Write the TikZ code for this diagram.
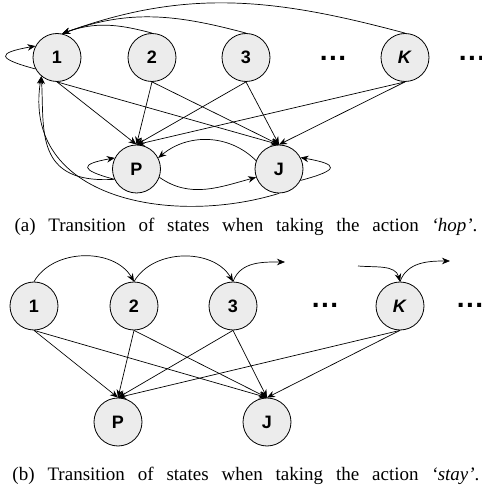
\documentclass[tikz,border=0pt]{standalone}
\usepackage{fontspec}
\setmainfont{Liberation Serif}
\setsansfont{Liberation Sans}
\usepackage{tikz}
\usetikzlibrary{arrows.meta}

\begin{document}
\begin{tikzpicture}[x=1pt,y=1pt,
		stnode/.style={circle,draw,fill=gray!15,line width=0.8pt,minimum size=48pt,inner sep=0pt,font=\sffamily\bfseries\fontsize{18}{18}\selectfont},
		dotsnode/.style={anchor=base,inner sep=0pt,font=\sffamily\bfseries\fontsize{28}{28}\selectfont},
		trans/.style={line width=0.7pt,-{Stealth[length=8pt,width=6.5pt]}},
		capnode/.style={anchor=base,inner sep=0pt,font=\fontsize{19}{22}\selectfont}]
			\useasboundingbox (0,0) rectangle (482,491);
			
			%estados (a) hop
			\node[stnode] (n1a) at (57,433.5) {1};
			\node[stnode] (n2a) at (152,433.5) {2};
			\node[stnode] (n3a) at (246,433.5) {3};
			\node[dotsnode] (dA1) at (333,430.9) {.\hspace{1.5pt}.\hspace{1.5pt}.};
			\node[stnode] (nKa) at (405,433.5) {\textit{K}};
			\node[dotsnode] (dA2) at (472,430.9) {.\hspace{1.5pt}.\hspace{1.5pt}.};
			\node[stnode] (nPa) at (136.5,322) {P};
			\node[stnode] (nJa) at (279,322) {J};
			
			\draw[trans] (n1a.south) -- (nPa.north);
			\draw[trans] (n1a.south) -- (nJa.north);
			\draw[trans] (n2a.south) -- (nPa.north);
			\draw[trans] (n2a.south) -- (nJa.north);
			\draw[trans] (n3a.south) -- (nPa.north);
			\draw[trans] (n3a.south) -- (nJa.north);
			\draw[trans] (nKa.south) -- (nPa.north);
			\draw[trans] (nKa.south) -- (nJa.north);
			
			%vuelta a 1
			\draw[trans] (n2a.north) to[out=165,in=20] (n1a.78);
			\draw[trans] (n3a.north) to[out=165,in=20] (n1a.78);
			\draw[trans] (nKa.north) to[out=165,in=20] (n1a.78);
			\draw[trans] (n1a.208) .. controls +(165:40) and +(190:40) .. (n1a.152);
			\draw[trans] (nPa.205) .. controls +(-80,-5) and +(3,-54) .. (n1a.-130);
			\draw[trans] (nJa.south) .. controls +(-107,-33) and +(-20,-123) .. (n1a.-130);
			
			%P y J
			\draw[trans] (nPa.205) .. controls +(165:36) and +(190:36) .. (nPa.153);
			\draw[trans] (nJa.-28) .. controls +(15:40) and +(-10:40) .. (nJa.28);
			\draw[trans] (nPa.-20) to[out=-35,in=195] (nJa.200);
			\draw[trans] (nJa.160) to[out=135,in=40] (nPa.27);
			
			\node[capnode] (capA) at (246,259) {\makebox[463pt][s]{(a) Transition of states when taking the action \textit{‘hop’}.}};
			
			%estados (b) stay
			\node[stnode] (n1b) at (34,185) {1};
			\node[stnode] (n2b) at (134,185) {2};
			\node[stnode] (n3b) at (233,185) {3};
			\node[dotsnode] (dB1) at (325,183.9) {.\hspace{1.5pt}.\hspace{1.5pt}.};
			\node[stnode] (nKb) at (400,185) {\textit{K}};
			\node[dotsnode] (dB2) at (470,183.9) {.\hspace{1.5pt}.\hspace{1.5pt}.};
			\node[stnode] (nPb) at (118,69) {P};
			\node[stnode] (nJb) at (267,69) {J};
			\coordinate (e3) at (285,229);
			\coordinate (eK) at (358,225);
			\coordinate (eK2) at (450,230);
			
			\draw[trans] (n1b.north) to[out=60,in=120] (n2b.north);
			\draw[trans] (n2b.north) to[out=60,in=120] (n3b.north);
			\draw[trans] (n3b.north) to[out=70,in=180] (e3);
			\draw[trans] (eK) to[out=-5,in=105] (nKb.north);
			\draw[trans] (nKb.north) to[out=70,in=180] (eK2);
			
			\draw[trans] (n1b.south) -- (nPb.north);
			\draw[trans] (n1b.south) -- (nJb.north);
			\draw[trans] (n2b.south) -- (nPb.north);
			\draw[trans] (n2b.south) -- (nJb.north);
			\draw[trans] (n3b.south) -- (nPb.north);
			\draw[trans] (n3b.south) -- (nJb.north);
			\draw[trans] (nKb.south) -- (nPb.north);
			\draw[trans] (nKb.south) -- (nJb.north);
			
			\node[capnode] (capB) at (246,10) {\makebox[467pt][s]{(b) Transition of states when taking the action \textit{‘stay’}.}};
\end{tikzpicture}
\end{document}
